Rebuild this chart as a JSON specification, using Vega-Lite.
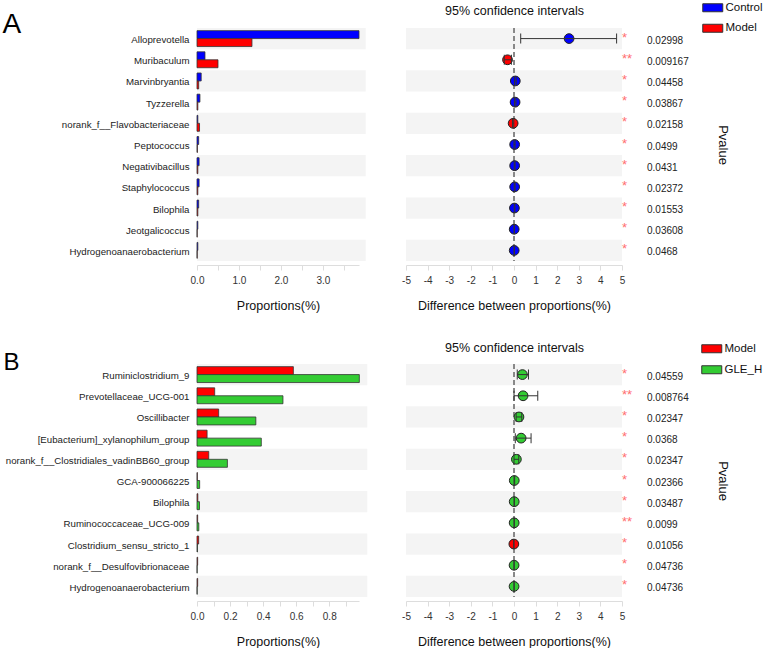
{
  "$schema": "https://vega.github.io/schema/vega-lite/v6.json",
  "background": "white",
  "padding": {"left": 2, "top": 2, "right": 0, "bottom": 0},
  "config": {"font": "Liberation Sans", "view": {"stroke": null}, "axis": {"labelOverlap": false, "labelSeparation": 0}},
  "columns": 2,
  "align": "each",
  "bounds": "flush",
  "spacing": {"row": 103, "column": 47},
  "resolve": {"scale": {"x": "independent", "y": "independent", "color": "independent", "yOffset": "independent"}, "legend": {"color": "independent"}},
  "datasets": {
    "a_bars": [
      {"taxon": "Alloprevotella", "group": "Control", "prop": 3.86},
      {"taxon": "Alloprevotella", "group": "Model", "prop": 1.31},
      {"taxon": "Muribaculum", "group": "Control", "prop": 0.19},
      {"taxon": "Muribaculum", "group": "Model", "prop": 0.5},
      {"taxon": "Marvinbryantia", "group": "Control", "prop": 0.1},
      {"taxon": "Marvinbryantia", "group": "Model", "prop": 0.04},
      {"taxon": "Tyzzerella", "group": "Control", "prop": 0.07},
      {"taxon": "Tyzzerella", "group": "Model", "prop": 0.02},
      {"taxon": "norank_f__Flavobacteriaceae", "group": "Control", "prop": 0.02},
      {"taxon": "norank_f__Flavobacteriaceae", "group": "Model", "prop": 0.06},
      {"taxon": "Peptococcus", "group": "Control", "prop": 0.04},
      {"taxon": "Peptococcus", "group": "Model", "prop": 0.01},
      {"taxon": "Negativibacillus", "group": "Control", "prop": 0.05},
      {"taxon": "Negativibacillus", "group": "Model", "prop": 0.02},
      {"taxon": "Staphylococcus", "group": "Control", "prop": 0.05},
      {"taxon": "Staphylococcus", "group": "Model", "prop": 0.02},
      {"taxon": "Bilophila", "group": "Control", "prop": 0.04},
      {"taxon": "Bilophila", "group": "Model", "prop": 0.02},
      {"taxon": "Jeotgalicoccus", "group": "Control", "prop": 0.02},
      {"taxon": "Jeotgalicoccus", "group": "Model", "prop": 0.005},
      {"taxon": "Hydrogenoanaerobacterium", "group": "Control", "prop": 0.02},
      {"taxon": "Hydrogenoanaerobacterium", "group": "Model", "prop": 0.005}
    ],
    "a_ci": [
      {"taxon": "Alloprevotella", "diff": 2.55, "lo": 0.31, "hi": 4.75, "group": "Control", "p": "0.02998", "sig": "*"},
      {"taxon": "Muribaculum", "diff": -0.3, "lo": -0.45, "hi": -0.12, "group": "Model", "p": "0.009167", "sig": "**"},
      {"taxon": "Marvinbryantia", "diff": 0.06, "lo": 0.02, "hi": 0.1, "group": "Control", "p": "0.04458", "sig": "*"},
      {"taxon": "Tyzzerella", "diff": 0.05, "lo": 0.02, "hi": 0.09, "group": "Control", "p": "0.03867", "sig": "*"},
      {"taxon": "norank_f__Flavobacteriaceae", "diff": -0.04, "lo": -0.07, "hi": -0.01, "group": "Model", "p": "0.02158", "sig": "*"},
      {"taxon": "Peptococcus", "diff": 0.03, "lo": 0.0, "hi": 0.05, "group": "Control", "p": "0.0499", "sig": "*"},
      {"taxon": "Negativibacillus", "diff": 0.03, "lo": 0.01, "hi": 0.05, "group": "Control", "p": "0.0431", "sig": "*"},
      {"taxon": "Staphylococcus", "diff": 0.03, "lo": 0.01, "hi": 0.05, "group": "Control", "p": "0.02372", "sig": "*"},
      {"taxon": "Bilophila", "diff": 0.02, "lo": 0.01, "hi": 0.04, "group": "Control", "p": "0.01553", "sig": "*"},
      {"taxon": "Jeotgalicoccus", "diff": 0.01, "lo": 0.0, "hi": 0.02, "group": "Control", "p": "0.03608", "sig": "*"},
      {"taxon": "Hydrogenoanaerobacterium", "diff": 0.01, "lo": 0.0, "hi": 0.02, "group": "Control", "p": "0.0468", "sig": "*"}
    ],
    "b_bars": [
      {"taxon": "Ruminiclostridium_9", "group": "Model", "prop": 0.583},
      {"taxon": "Ruminiclostridium_9", "group": "GLE_H", "prop": 0.982},
      {"taxon": "Prevotellaceae_UCG-001", "group": "Model", "prop": 0.107},
      {"taxon": "Prevotellaceae_UCG-001", "group": "GLE_H", "prop": 0.52},
      {"taxon": "Oscillibacter", "group": "Model", "prop": 0.131},
      {"taxon": "Oscillibacter", "group": "GLE_H", "prop": 0.356},
      {"taxon": "[Eubacterium]_xylanophilum_group", "group": "Model", "prop": 0.061},
      {"taxon": "[Eubacterium]_xylanophilum_group", "group": "GLE_H", "prop": 0.389},
      {"taxon": "norank_f__Clostridiales_vadinBB60_group", "group": "Model", "prop": 0.071},
      {"taxon": "norank_f__Clostridiales_vadinBB60_group", "group": "GLE_H", "prop": 0.184},
      {"taxon": "GCA-900066225", "group": "Model", "prop": 0.002},
      {"taxon": "GCA-900066225", "group": "GLE_H", "prop": 0.016},
      {"taxon": "Bilophila", "group": "Model", "prop": 0.005},
      {"taxon": "Bilophila", "group": "GLE_H", "prop": 0.015},
      {"taxon": "Ruminococcaceae_UCG-009", "group": "Model", "prop": 0.004},
      {"taxon": "Ruminococcaceae_UCG-009", "group": "GLE_H", "prop": 0.011},
      {"taxon": "Clostridium_sensu_stricto_1", "group": "Model", "prop": 0.01},
      {"taxon": "Clostridium_sensu_stricto_1", "group": "GLE_H", "prop": 0.003},
      {"taxon": "norank_f__Desulfovibrionaceae", "group": "Model", "prop": 0.004},
      {"taxon": "norank_f__Desulfovibrionaceae", "group": "GLE_H", "prop": 0.001},
      {"taxon": "Hydrogenoanaerobacterium", "group": "Model", "prop": 0.004},
      {"taxon": "Hydrogenoanaerobacterium", "group": "GLE_H", "prop": 0.001}
    ],
    "b_ci": [
      {"taxon": "Ruminiclostridium_9", "diff": 0.39, "lo": 0.15, "hi": 0.67, "group": "GLE_H", "p": "0.04559", "sig": "*"},
      {"taxon": "Prevotellaceae_UCG-001", "diff": 0.42, "lo": 0.0, "hi": 1.1, "group": "GLE_H", "p": "0.008764", "sig": "**"},
      {"taxon": "Oscillibacter", "diff": 0.23, "lo": 0.1, "hi": 0.36, "group": "GLE_H", "p": "0.02347", "sig": "*"},
      {"taxon": "[Eubacterium]_xylanophilum_group", "diff": 0.33, "lo": 0.06, "hi": 0.79, "group": "GLE_H", "p": "0.0368", "sig": "*"},
      {"taxon": "norank_f__Clostridiales_vadinBB60_group", "diff": 0.11, "lo": 0.0, "hi": 0.22, "group": "GLE_H", "p": "0.02347", "sig": "*"},
      {"taxon": "GCA-900066225", "diff": 0.013, "lo": 0.0, "hi": 0.03, "group": "GLE_H", "p": "0.02366", "sig": "*"},
      {"taxon": "Bilophila", "diff": 0.01, "lo": 0.0, "hi": 0.02, "group": "GLE_H", "p": "0.03487", "sig": "*"},
      {"taxon": "Ruminococcaceae_UCG-009", "diff": 0.007, "lo": 0.0, "hi": 0.015, "group": "GLE_H", "p": "0.0099", "sig": "**"},
      {"taxon": "Clostridium_sensu_stricto_1", "diff": -0.007, "lo": -0.012, "hi": -0.002, "group": "Model", "p": "0.01056", "sig": "*"},
      {"taxon": "norank_f__Desulfovibrionaceae", "diff": 0.003, "lo": 0.0, "hi": 0.006, "group": "GLE_H", "p": "0.04736", "sig": "*"},
      {"taxon": "Hydrogenoanaerobacterium", "diff": 0.003, "lo": 0.0, "hi": 0.006, "group": "GLE_H", "p": "0.04736", "sig": "*"}
    ]
  },
  "concat": [
    {
      "width": 162, "height": 233,
      "resolve": {"scale": {"x": "independent"}},
      "layer": [
        {
          "data": {"name": "a_ci"},
          "transform": [{"window": [{"op": "row_number", "as": "i"}]}, {"filter": "datum.i % 2 == 1"}],
          "mark": {"type": "rect", "color": "#f4f4f4"},
          "encoding": {
            "y": {"field": "taxon", "type": "nominal",
              "scale": {"domain": ["Alloprevotella","Muribaculum","Marvinbryantia","Tyzzerella","norank_f__Flavobacteriaceae","Peptococcus","Negativibacillus","Staphylococcus","Bilophila","Jeotgalicoccus","Hydrogenoanaerobacterium"], "paddingInner": 0, "paddingOuter": 0},
              "axis": {"title": null, "ticks": false, "domain": false, "labelFontSize": 9.7, "labelColor": "#222", "labelPadding": 8, "labelLimit": 260, "labelOffset": 1.5}},
            "x": {"datum": 0, "type": "quantitative", "scale": {"domain": [0, 3.86], "nice": false},
              "axis": {"orient": "top", "labels": false, "ticks": false, "domain": false, "grid": false, "title": "A", "titleX": -195, "titleY": 4, "titleAlign": "left", "titleBaseline": "alphabetic", "titleFontSize": 28, "titleFontWeight": "normal", "titleColor": "#000"}},
            "x2": {"datum": 4.02}
          }
        },
        {
          "data": {"name": "a_bars"},
          "mark": {"type": "bar", "stroke": "#333", "strokeWidth": 0.8},
          "encoding": {
            "y": {"field": "taxon", "type": "nominal"},
            "yOffset": {"field": "group", "type": "nominal", "scale": {"domain": ["Control", "Model"], "paddingOuter": 0.33, "paddingInner": 0}},
            "x": {"field": "prop", "type": "quantitative", "scale": {"domain": [0, 3.86], "nice": false},
              "axis": {"title": "Proportions(%)", "values": [0, 0.5, 1, 1.5, 2, 2.5, 3, 3.5], "format": ".1f", "labelExpr": "datum.value % 1 == 0 ? datum.label : ''", "labelOverlap": false, "offset": 4, "tickSize": 5, "tickColor": "#ddd", "domainColor": "#ddd", "labelFontSize": 10, "labelColor": "#333", "labelPadding": 5, "labelFlush": false, "titleFontSize": 12.5, "titleFontWeight": "normal", "titleColor": "#111", "titlePadding": 14, "grid": false}},
            "color": {"field": "group", "type": "nominal", "scale": {"domain": ["Control", "Model"], "range": ["#0000ff", "#ff0000"]}, "legend": null}
          }
        }
      ]
    },
    {
      "width": 216, "height": 233,
      "data": {"name": "a_ci"},
      "resolve": {"scale": {"x": "independent"}},
      "layer": [
        {
          "transform": [{"window": [{"op": "row_number", "as": "i"}]}, {"filter": "datum.i % 2 == 1"}],
          "mark": {"type": "rect", "color": "#f4f4f4"},
          "encoding": {
            "y": {"field": "taxon", "type": "nominal",
              "scale": {"domain": ["Alloprevotella","Muribaculum","Marvinbryantia","Tyzzerella","norank_f__Flavobacteriaceae","Peptococcus","Negativibacillus","Staphylococcus","Bilophila","Jeotgalicoccus","Hydrogenoanaerobacterium"], "paddingInner": 0, "paddingOuter": 0},
              "axis": {"orient": "right", "labels": false, "ticks": false, "domain": false, "title": "Pvalue", "titleAngle": 90, "titleFontSize": 13, "titleFontWeight": "normal", "titleColor": "#111", "titlePadding": 93, "minExtent": 0}},
            "x": {"datum": -5, "type": "quantitative", "scale": {"domain": [-5, 5], "nice": false},
              "axis": {"orient": "top", "labels": false, "ticks": false, "domain": false, "grid": false, "title": "95% confidence intervals", "titleX": 108, "titleY": -14, "titleAlign": "center", "titleBaseline": "alphabetic", "titleFontSize": 12.5, "titleFontWeight": "normal", "titleColor": "#111"}},
            "x2": {"datum": 5}
          }
        },
        {
          "layer": [
            {
              "mark": {"type": "rule", "color": "#888", "strokeDash": [5, 3], "strokeWidth": 1},
              "encoding": {"x": {"datum": 0, "type": "quantitative"}}
            },
            {
              "mark": {"type": "circle", "size": 95, "opacity": 1, "stroke": "#222", "strokeWidth": 1},
              "encoding": {
                "y": {"field": "taxon", "type": "nominal"},
                "x": {"field": "diff", "type": "quantitative", "scale": {"domain": [-5, 5], "nice": false},
                  "axis": {"title": "Difference between proportions(%)", "tickCount": 10, "format": "d", "labelExpr": "replace(datum.label, '\u2212', '-')", "labelOverlap": false, "offset": 4, "tickSize": 5, "tickColor": "#ddd", "domainColor": "#ddd", "labelFontSize": 10, "labelColor": "#333", "labelPadding": 5, "labelFlush": false, "titleFontSize": 12.5, "titleFontWeight": "normal", "titleColor": "#111", "titlePadding": 14, "grid": false}},
                "color": {"field": "group", "type": "nominal", "scale": {"domain": ["Control", "Model"], "range": ["#0000ff", "#ff0000"]},
                  "legend": {"title": null, "orient": "none", "legendX": 301, "legendY": -26, "direction": "vertical", "symbolType": "M-2.5,-1H2.5V1H-2.5Z", "symbolSize": 64, "symbolStrokeColor": "#333", "symbolStrokeWidth": 1, "symbolOpacity": 1, "labelFontSize": 11.5, "labelColor": "#111", "labelOffset": 7, "rowPadding": 7.5, "padding": 0}}
              }
            },
            {
              "mark": {"type": "rule", "color": "#333", "strokeWidth": 1},
              "encoding": {"y": {"field": "taxon", "type": "nominal"}, "x": {"field": "lo", "type": "quantitative"}, "x2": {"field": "hi"}}
            },
            {
              "mark": {"type": "tick", "color": "#333", "thickness": 1, "size": 10, "opacity": 1},
              "encoding": {"y": {"field": "taxon", "type": "nominal"}, "x": {"field": "lo", "type": "quantitative"}}
            },
            {
              "mark": {"type": "tick", "color": "#333", "thickness": 1, "size": 10, "opacity": 1},
              "encoding": {"y": {"field": "taxon", "type": "nominal"}, "x": {"field": "hi", "type": "quantitative"}}
            },
            {
              "mark": {"type": "text", "align": "left", "baseline": "middle", "color": "#ff6f6f", "fontSize": 13, "dy": -1},
              "encoding": {"y": {"field": "taxon", "type": "nominal"}, "x": {"datum": 5, "type": "quantitative"}, "text": {"field": "sig"}}
            },
            {
              "mark": {"type": "text", "align": "left", "baseline": "middle", "color": "#222", "fontSize": 10, "dx": 25, "dy": 2},
              "encoding": {"y": {"field": "taxon", "type": "nominal"}, "x": {"datum": 5, "type": "quantitative"}, "text": {"field": "p"}}
            }
          ]
        }
      ]
    },
    {
      "width": 162, "height": 233,
      "resolve": {"scale": {"x": "independent"}},
      "layer": [
        {
          "data": {"name": "b_ci"},
          "transform": [{"window": [{"op": "row_number", "as": "i"}]}, {"filter": "datum.i % 2 == 1"}],
          "mark": {"type": "rect", "color": "#f4f4f4"},
          "encoding": {
            "y": {"field": "taxon", "type": "nominal",
              "scale": {"domain": ["Ruminiclostridium_9","Prevotellaceae_UCG-001","Oscillibacter","[Eubacterium]_xylanophilum_group","norank_f__Clostridiales_vadinBB60_group","GCA-900066225","Bilophila","Ruminococcaceae_UCG-009","Clostridium_sensu_stricto_1","norank_f__Desulfovibrionaceae","Hydrogenoanaerobacterium"], "paddingInner": 0, "paddingOuter": 0},
              "axis": {"title": null, "ticks": false, "domain": false, "labelFontSize": 9.7, "labelColor": "#222", "labelPadding": 8, "labelLimit": 260, "labelOffset": 1.5}},
            "x": {"datum": 0, "type": "quantitative", "scale": {"domain": [0, 0.98], "nice": false},
              "axis": {"orient": "top", "labels": false, "ticks": false, "domain": false, "grid": false, "title": "B", "titleX": -194, "titleY": 5, "titleAlign": "left", "titleBaseline": "alphabetic", "titleFontSize": 24, "titleFontWeight": "normal", "titleColor": "#000"}},
            "x2": {"datum": 1.03}
          }
        },
        {
          "data": {"name": "b_bars"},
          "mark": {"type": "bar", "stroke": "#333", "strokeWidth": 0.8},
          "encoding": {
            "y": {"field": "taxon", "type": "nominal"},
            "yOffset": {"field": "group", "type": "nominal", "scale": {"domain": ["Model", "GLE_H"], "paddingOuter": 0.33, "paddingInner": 0}},
            "x": {"field": "prop", "type": "quantitative", "scale": {"domain": [0, 0.98], "nice": false},
              "axis": {"title": "Proportions(%)", "values": [0, 0.1, 0.2, 0.3, 0.4, 0.5, 0.6, 0.7, 0.8, 0.9], "format": ".1f", "labelExpr": "round(datum.value * 10) % 2 == 0 ? datum.label : ''", "labelOverlap": false, "offset": 4, "tickSize": 5, "tickColor": "#ddd", "domainColor": "#ddd", "labelFontSize": 10, "labelColor": "#333", "labelPadding": 5, "labelFlush": false, "titleFontSize": 12.5, "titleFontWeight": "normal", "titleColor": "#111", "titlePadding": 14, "grid": false}},
            "color": {"field": "group", "type": "nominal", "scale": {"domain": ["Model", "GLE_H"], "range": ["#ff0000", "#33cc33"]}, "legend": null}
          }
        }
      ]
    },
    {
      "width": 216, "height": 233,
      "data": {"name": "b_ci"},
      "resolve": {"scale": {"x": "independent"}},
      "layer": [
        {
          "transform": [{"window": [{"op": "row_number", "as": "i"}]}, {"filter": "datum.i % 2 == 1"}],
          "mark": {"type": "rect", "color": "#f4f4f4"},
          "encoding": {
            "y": {"field": "taxon", "type": "nominal",
              "scale": {"domain": ["Ruminiclostridium_9","Prevotellaceae_UCG-001","Oscillibacter","[Eubacterium]_xylanophilum_group","norank_f__Clostridiales_vadinBB60_group","GCA-900066225","Bilophila","Ruminococcaceae_UCG-009","Clostridium_sensu_stricto_1","norank_f__Desulfovibrionaceae","Hydrogenoanaerobacterium"], "paddingInner": 0, "paddingOuter": 0},
              "axis": {"orient": "right", "labels": false, "ticks": false, "domain": false, "title": "Pvalue", "titleAngle": 90, "titleFontSize": 13, "titleFontWeight": "normal", "titleColor": "#111", "titlePadding": 93, "minExtent": 0}},
            "x": {"datum": -5, "type": "quantitative", "scale": {"domain": [-5, 5], "nice": false},
              "axis": {"orient": "top", "labels": false, "ticks": false, "domain": false, "grid": false, "title": "95% confidence intervals", "titleX": 108, "titleY": -13, "titleAlign": "center", "titleBaseline": "alphabetic", "titleFontSize": 12.5, "titleFontWeight": "normal", "titleColor": "#111"}},
            "x2": {"datum": 5}
          }
        },
        {
          "layer": [
            {
              "mark": {"type": "rule", "color": "#888", "strokeDash": [5, 3], "strokeWidth": 1},
              "encoding": {"x": {"datum": 0, "type": "quantitative"}}
            },
            {
              "mark": {"type": "circle", "size": 95, "opacity": 1, "stroke": "#222", "strokeWidth": 1},
              "encoding": {
                "y": {"field": "taxon", "type": "nominal"},
                "x": {"field": "diff", "type": "quantitative", "scale": {"domain": [-5, 5], "nice": false},
                  "axis": {"title": "Difference between proportions(%)", "tickCount": 10, "format": "d", "labelExpr": "replace(datum.label, '\u2212', '-')", "labelOverlap": false, "offset": 4, "tickSize": 5, "tickColor": "#ddd", "domainColor": "#ddd", "labelFontSize": 10, "labelColor": "#333", "labelPadding": 5, "labelFlush": false, "titleFontSize": 12.5, "titleFontWeight": "normal", "titleColor": "#111", "titlePadding": 14, "grid": false}},
                "color": {"field": "group", "type": "nominal", "scale": {"domain": ["Model", "GLE_H"], "range": ["#ff0000", "#33cc33"]},
                  "legend": {"title": null, "orient": "none", "legendX": 300, "legendY": -21, "direction": "vertical", "symbolType": "M-2.5,-1H2.5V1H-2.5Z", "symbolSize": 64, "symbolStrokeColor": "#333", "symbolStrokeWidth": 1, "symbolOpacity": 1, "labelFontSize": 11.5, "labelColor": "#111", "labelOffset": 7, "rowPadding": 8, "padding": 0}}
              }
            },
            {
              "mark": {"type": "rule", "color": "#333", "strokeWidth": 1},
              "encoding": {"y": {"field": "taxon", "type": "nominal"}, "x": {"field": "lo", "type": "quantitative"}, "x2": {"field": "hi"}}
            },
            {
              "mark": {"type": "tick", "color": "#333", "thickness": 1, "size": 10, "opacity": 1},
              "encoding": {"y": {"field": "taxon", "type": "nominal"}, "x": {"field": "lo", "type": "quantitative"}}
            },
            {
              "mark": {"type": "tick", "color": "#333", "thickness": 1, "size": 10, "opacity": 1},
              "encoding": {"y": {"field": "taxon", "type": "nominal"}, "x": {"field": "hi", "type": "quantitative"}}
            },
            {
              "mark": {"type": "text", "align": "left", "baseline": "middle", "color": "#ff6f6f", "fontSize": 13, "dy": -1},
              "encoding": {"y": {"field": "taxon", "type": "nominal"}, "x": {"datum": 5, "type": "quantitative"}, "text": {"field": "sig"}}
            },
            {
              "mark": {"type": "text", "align": "left", "baseline": "middle", "color": "#222", "fontSize": 10, "dx": 25, "dy": 2},
              "encoding": {"y": {"field": "taxon", "type": "nominal"}, "x": {"datum": 5, "type": "quantitative"}, "text": {"field": "p"}}
            }
          ]
        }
      ]
    }
  ]
}
